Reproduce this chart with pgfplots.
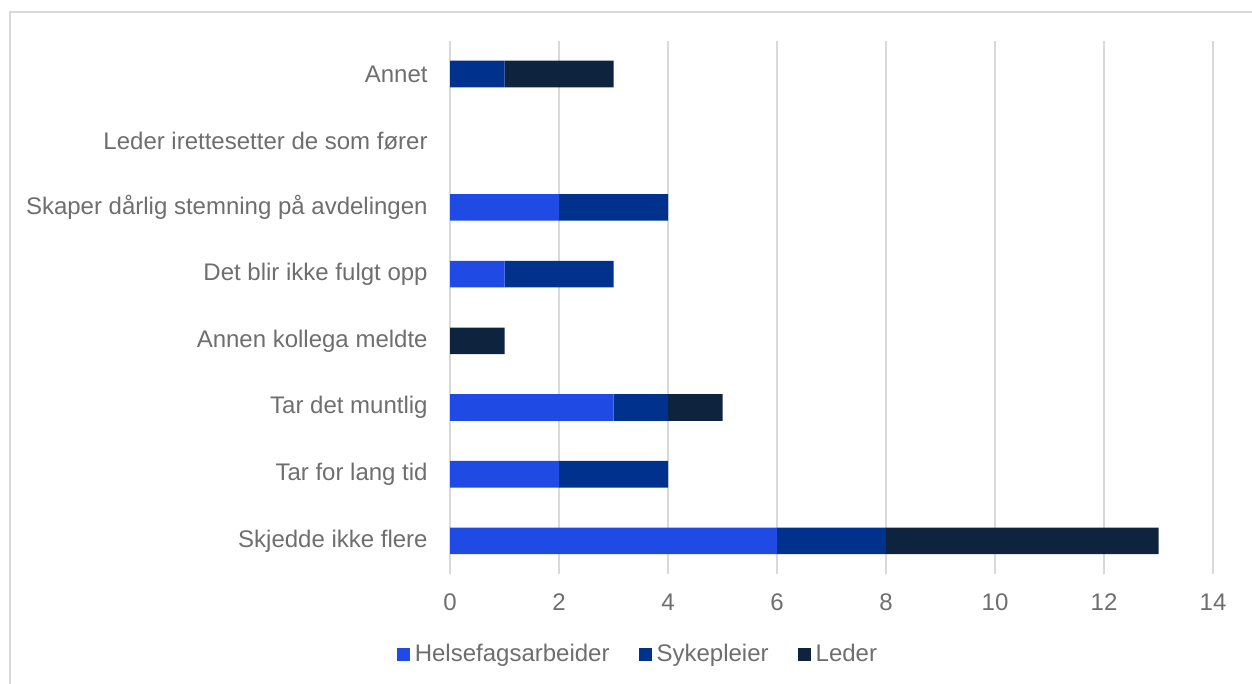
\documentclass[border=0pt]{standalone}
\usepackage{pgfplots}
\pgfplotsset{compat=1.18}
\usepackage{fontspec}
\setmainfont{Liberation Sans}
\definecolor{cH}{HTML}{204AE4}
\definecolor{cS}{HTML}{00318C}
\definecolor{cL}{HTML}{0E233D}
\definecolor{txt}{HTML}{6E6E6E}
\definecolor{grd}{HTML}{D9D9D9}
\begin{document}
\fontsize{12pt}{14pt}\selectfont
\begin{tikzpicture}
\path[use as bounding box] (0pt,0pt) rectangle (626pt,342pt);
\draw[grd, line width=1pt] (4.75pt,0pt) -- (4.75pt,335.75pt) -- (626pt,335.75pt);
\begin{axis}[
  at={(225pt,54.85pt)}, anchor=south west,
  scale only axis, width=381.5pt, height=266.85pt,
  xbar stacked, bar width=13.3pt,
  xmin=0, xmax=14, ymin=-0.5, ymax=7.5,
  xtick={0,2,...,14}, ytick={0,...,7},
  yticklabels={Skjedde ikke flere,Tar for lang tid,Tar det muntlig,Annen kollega meldte,Det blir ikke fulgt opp,Skaper dårlig stemning på avdelingen,Leder irettesetter de som fører,Annet},
  axis line style={draw=none},
  major tick length=0pt,
  xmajorgrids, major grid style={grd, line width=0.7pt},
  ticklabel style={font=\fontsize{12pt}{14pt}\selectfont, text=txt},
  /pgf/number format/assume math mode=true,
  yticklabel style={inner sep=0pt, xshift=-11pt},
  xticklabel style={inner sep=0pt, yshift=-9.5pt},
  legend columns=3,
  legend style={at={(0.245,-0.1512)}, anchor=center, draw=none, fill=none,
    font=\fontsize{12pt}{14pt}\selectfont, text=txt,
    nodes={inner sep=0pt}, column sep=0pt},
  legend cell align=left,
  /tikz/every odd column/.append style={column sep=2.5pt},
  legend image code/.code={\fill[#1] (0pt,-3.25pt) rectangle (6.5pt,3.25pt);},
  /tikz/every even column/.append style={column sep=14.5pt},
]
\addplot[fill=cH, draw=none] coordinates {(6,0) (2,1) (3,2) (0,3) (1,4) (2,5) (0,6) (0,7)};
\addplot[fill=cS, draw=none] coordinates {(2,0) (2,1) (1,2) (0,3) (2,4) (2,5) (0,6) (1,7)};
\addplot[fill=cL, draw=none] coordinates {(5,0) (0,1) (1,2) (1,3) (0,4) (0,5) (0,6) (2,7)};
\legend{Helsefagsarbeider,Sykepleier,Leder}
\end{axis}
\end{tikzpicture}
\end{document}
